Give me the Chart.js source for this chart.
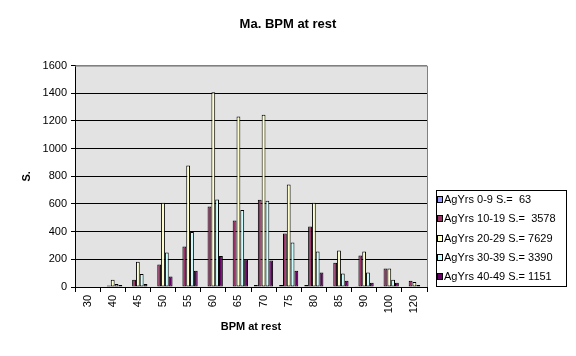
<!DOCTYPE html>
<html>
<head>
<meta charset="utf-8">
<script src="https://cdn.jsdelivr.net/npm/chart.js@4.4.1/dist/chart.umd.min.js"></script>
<style>
html, body { margin: 0; padding: 0; background: #fff; }
</style>
</head>
<body>
<canvas id="mycanvas" width="576" height="356"></canvas>
<script>
// data
var bpm = ["30", "40", "45", "50", "55", "60", "65", "70", "75", "80", "85", "90", "100", "120"];
var ag0_9   = [0, 0, 0, 0, 0, 0, 0, 15, 15, 14, 5, 5, 5, 0];
var ag10_19 = [0, 10, 53, 162, 292, 582, 480, 630, 386, 437, 176, 227, 133, 46];
var ag20_29 = [0, 53, 183, 608, 878, 1407, 1233, 1245, 741, 608, 263, 256, 133, 36];
var ag30_39 = [0, 22, 94, 249, 398, 632, 557, 623, 321, 256, 97, 104, 53, 14];
var ag40_49 = [0, 14, 22, 75, 118, 224, 198, 191, 118, 104, 46, 31, 31, 0];
var seriesNames = ["AgYrs 0-9 S.=  63", "AgYrs 10-19 S.=  3578", "AgYrs 20-29 S.= 7629", "AgYrs 30-39 S.= 3390", "AgYrs 40-49 S.= 1151"];
var seriesColors = ["#9999FF", "#993366", "#FFFFCC", "#CCFFFF", "#660066"];
var yTicks = [0, 200, 400, 600, 800, 1000, 1200, 1400, 1600];

var chartTitle = "Ma. BPM at rest";
var xTitle = "BPM at rest";
var yTitle = "S.";

var font = "'Liberation Sans', Arial, sans-serif";

// plot background, grey frame and boxed legend (Excel style)
var excelLook = {
	id: 'excelLook',
	beforeDraw: function(chart) {
		var a = chart.chartArea, c = chart.ctx;
		c.save();
		c.fillStyle = "#E3E3E3";
		c.fillRect(a.left, a.top, a.right - a.left, a.bottom - a.top);
		c.restore();
	},
	afterDraw: function(chart) {
		var a = chart.chartArea, c = chart.ctx;
		c.save();
		c.strokeStyle = "#808080";
		c.lineWidth = 1;
		c.beginPath();
		c.moveTo(a.left, a.top + 0.5);
		c.lineTo(a.right + 0.5, a.top + 0.5);
		c.lineTo(a.right + 0.5, a.bottom);
		c.stroke();

		// legend
		var lx = 436, ly = 190, lw = 130, lh = 96;
		c.strokeStyle = "#000";
		c.strokeRect(lx + 0.5, ly + 0.5, lw, lh);
		c.font = "11px " + font;
		c.textBaseline = "middle";
		c.fillStyle = "#000";
		var ds = chart.data.datasets;
		for (var i = 0; i < ds.length; i++) {
			var yy = 200 + i * 19.3;
			c.fillStyle = ds[i].backgroundColor;
			c.fillRect(437.5, Math.round(yy) - 3.5, 5, 6);
			c.strokeRect(437.5, Math.round(yy) - 3.5, 5, 6);
			c.fillStyle = "#000";
			c.fillText(ds[i].label, 444, yy);
		}
		c.restore();
	}
};

var datasets = [];
var allSeries = [ag0_9, ag10_19, ag20_29, ag30_39, ag40_49];
for (var i in allSeries) {
	datasets.push({
		label: seriesNames[i],
		data: allSeries[i],
		backgroundColor: seriesColors[i],
		borderColor: "#000",
		borderWidth: 1,
		borderSkipped: false,
		categoryPercentage: 0.76,
		barPercentage: 1.0
	});
}

var ctx = document.getElementById("mycanvas");

var BarGraph = new Chart(ctx, {
	type: 'bar',
	data: { labels: bpm, datasets: datasets },
	plugins: [excelLook],
	options: {
		responsive: false,
		animation: false,
		layout: { padding: 0 },
		plugins: {
			legend: { display: false },
			tooltip: { enabled: false },
			title: {
				display: true,
				text: chartTitle,
				color: "#000",
				font: { family: font, size: 13, weight: 'bold' },
				padding: { top: 17, bottom: 33 }
			}
		},
		scales: {
			x: {
				grid: { display: true, offset: true, drawOnChartArea: false, color: "#000", tickLength: 5 },
				border: { display: true, color: "#000" },
				ticks: {
					color: "#000", font: { family: font, size: 11 },
					minRotation: 90, maxRotation: 90, autoSkip: false, padding: 3
				},
				title: {
					display: true, text: xTitle, color: "#000",
					font: { family: font, size: 11, weight: 'bold' },
					padding: { top: 0, bottom: 22 }
				},
				afterFit: function(s) { s.height = 69; }
			},
			y: {
				min: 0, max: 1600,
				afterBuildTicks: function(s) { s.ticks = yTicks.map(function(v) { return { value: v }; }); },
				grid: {
					color: function(c) { return c.tick && c.tick.value === 1600 ? "#808080" : "#000"; },
					tickColor: "#000", tickLength: 4
				},
				border: { display: true, color: "#000" },
				ticks: {
					color: "#000", font: { family: font, size: 11 }, padding: 4,
					callback: function(v) { return String(v); }
				},
				title: {
					display: true, text: yTitle, color: "#000",
					font: { family: font, size: 11, weight: 'bold' },
					padding: { top: 20, bottom: 0 }
				},
				afterFit: function(s) { s.width = 75; }
			},
			// empty right axis only keeps room for the legend box
			side: {
				type: 'linear', position: 'right', display: true,
				grid: { display: false, drawTicks: false },
				border: { display: false },
				ticks: { display: false },
				afterFit: function(s) { s.width = 149; }
			}
		}
	}
});
</script>
</body>
</html>
